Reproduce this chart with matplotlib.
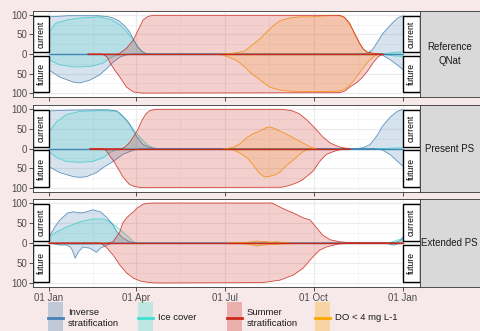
import matplotlib
matplotlib.use('Agg')
import numpy as np
import matplotlib.pyplot as plt
from matplotlib.patches import Rectangle
from matplotlib.lines import Line2D

plt.rcParams['font.family'] = ['Liberation Sans', 'DejaVu Sans']

# ---------------- data (day of year, % of years) ----------------
# Panel 1: Reference QNat
REF_INV_CUR_D = [0, 20, 50, 60, 66, 72, 78, 83, 87, 91, 95, 99, 103, 322, 328, 333, 338, 344, 348, 352, 356, 360, 365]
REF_INV_CUR_V = [95, 98, 98, 96, 92, 85, 72, 57, 38, 20, 8, 2, 0, 0, 2, 10, 28, 52, 63, 74, 84, 93, 98]
REF_INV_FUT_D = [0, 11, 25, 32, 42, 52, 60, 66, 73, 80, 86, 335, 344, 352, 359, 365]
REF_INV_FUT_V = [-41, -59, -72, -74, -67, -54, -36, -21, -8, -2, 0, 0, -3, -15, -28, -40]
REF_ICE_CUR_D = [0, 7, 18, 32, 52, 64, 73, 80, 85, 89, 93, 97, 101, 340, 350, 356, 360, 365]
REF_ICE_CUR_V = [56, 79, 87, 92, 95, 88, 75, 58, 42, 28, 14, 5, 0, 0, 2, 4, 5, 5]
REF_ICE_FUT_D = [0, 11, 25, 35, 45, 56, 63, 70, 76, 82, 340, 350, 356, 365]
REF_ICE_FUT_V = [-15, -28, -33, -33, -31, -23, -10, -3, -1, 0, 0, -3, -5, -6]
REF_SUM_CUR_D = [40, 70, 73, 80, 87, 92, 97, 102, 107, 300, 305, 310, 315, 320, 324, 328, 334, 344]
REF_SUM_CUR_V = [0, 0, 2, 15, 36, 62, 87, 96, 99, 99, 93, 79, 52, 28, 13, 5, 2, 0]
REF_SUM_FUT_D = [40, 55, 60, 63, 68, 73, 77, 80, 84, 87, 92, 97, 300, 305, 310, 318, 323, 328, 334, 339, 344]
REF_SUM_FUT_V = [0, 0, -8, -23, -42, -59, -74, -85, -92, -97, -99, -100, -99, -95, -85, -72, -60, -45, -23, -8, 0]
REF_DO_CUR_D = [180, 190, 197, 202, 207, 212, 218, 223, 228, 233, 238, 248, 258, 270, 280, 290, 300, 304, 308, 312, 316, 320, 324, 328, 332, 336]
REF_DO_CUR_V = [0, 2, 5, 8, 18, 28, 40, 53, 65, 76, 85, 92, 95, 95, 97, 98, 98, 95, 82, 67, 50, 30, 12, 5, 2, 0]
REF_DO_FUT_D = [173, 180, 187, 192, 197, 202, 207, 212, 218, 223, 228, 233, 238, 248, 260, 280, 300, 305, 310, 315, 320, 325, 330, 335, 340]
REF_DO_FUT_V = [0, -3, -10, -15, -23, -34, -46, -56, -67, -77, -85, -89, -92, -95, -96, -96, -95, -90, -80, -66, -49, -32, -17, -6, 0]

# Panel 2: Present PS
PRE_INV_CUR_D = [0, 20, 60, 70, 75, 83, 90, 97, 104, 110, 318, 324, 331, 338, 344, 352, 359, 365]
PRE_INV_CUR_V = [95, 97, 98, 95, 85, 62, 32, 10, 2, 0, 0, 2, 10, 32, 57, 80, 94, 99]
PRE_INV_FUT_D = [0, 11, 25, 32, 39, 49, 56, 66, 76, 83, 90, 96, 335, 344, 352, 359, 365]
PRE_INV_FUT_V = [-46, -61, -71, -73, -71, -61, -48, -33, -15, -8, -2, 0, 0, -4, -16, -32, -45]
PRE_ICE_CUR_D = [0, 8, 18, 32, 53, 70, 80, 87, 94, 101, 107, 112, 345, 355, 365]
PRE_ICE_CUR_V = [43, 68, 86, 94, 96, 94, 73, 48, 28, 10, 2, 0, 0, 1, 2]
PRE_ICE_FUT_D = [0, 8, 18, 32, 45, 56, 63, 70, 76, 345, 355, 365]
PRE_ICE_FUT_V = [-8, -23, -33, -35, -33, -23, -10, -3, 0, 0, -2, -3]
PRE_SUM_CUR_D = [42, 75, 78, 83, 88, 92, 96, 100, 104, 110, 240, 250, 258, 266, 274, 282, 290, 298, 305, 310]
PRE_SUM_CUR_V = [0, 0, 3, 15, 33, 50, 72, 88, 96, 99, 99, 96, 88, 72, 52, 30, 14, 5, 1, 0]
PRE_SUM_FUT_D = [42, 55, 59, 63, 67, 70, 73, 76, 80, 83, 88, 95, 240, 247, 252, 257, 262, 267, 272, 276, 279, 283, 286, 293, 300, 305]
PRE_SUM_FUT_V = [0, 0, -5, -20, -33, -46, -58, -71, -83, -91, -96, -99, -98, -94, -90, -85, -78, -68, -58, -44, -33, -22, -15, -8, -3, 0]
PRE_DO_CUR_D = [183, 190, 197, 204, 211, 218, 223, 228, 233, 238, 245, 252, 259, 265, 270, 275]
PRE_DO_CUR_V = [0, 3, 12, 28, 38, 45, 52, 55, 50, 44, 36, 27, 18, 10, 3, 0]
PRE_DO_FUT_D = [180, 190, 197, 204, 210, 216, 222, 228, 234, 238, 244, 250, 256, 262, 269, 275]
PRE_DO_FUT_V = [0, -3, -12, -23, -40, -60, -72, -70, -66, -60, -45, -33, -20, -8, -1, 0]

# Panel 3: Extended PS
EXT_INV_CUR_D = [0, 6, 11, 19, 25, 32, 39, 45, 53, 60, 66, 70, 76, 83, 90, 352, 358, 362, 365]
EXT_INV_CUR_V = [15, 40, 57, 75, 78, 75, 78, 83, 78, 63, 45, 28, 13, 3, 0, 0, 2, 6, 15]
EXT_INV_FUT_D = [0, 11, 18, 22, 24, 27, 30, 35, 42, 49, 53, 60, 66, 348, 352, 356, 360, 365]
EXT_INV_FUT_V = [0, -5, -5, -10, -18, -38, -23, -10, -13, -23, -13, -5, 0, 0, -4, -5, -2, 0]
EXT_ICE_CUR_D = [0, 8, 18, 32, 45, 56, 63, 70, 76, 83, 87, 92, 350, 355, 360, 365]
EXT_ICE_CUR_V = [15, 28, 40, 53, 60, 60, 53, 40, 28, 13, 3, 0, 0, 4, 8, 10]
EXT_ICE_FUT_D = [0, 10, 30, 60, 70]
EXT_ICE_FUT_V = [0, -2, -3, -2, 0]
EXT_SUM_CUR_D = [0, 60, 66, 73, 76, 80, 84, 87, 91, 94, 97, 101, 107, 230, 238, 245, 252, 262, 269, 276, 282, 290, 300, 310, 365]
EXT_SUM_CUR_V = [0, 0, 3, 28, 50, 63, 72, 78, 88, 92, 97, 99, 100, 100, 90, 82, 75, 63, 58, 38, 20, 8, 3, 1, 0]
EXT_SUM_FUT_D = [0, 53, 56, 60, 66, 73, 80, 87, 94, 101, 110, 220, 238, 252, 262, 272, 279, 286, 297, 310, 365]
EXT_SUM_FUT_V = [0, 0, -5, -13, -30, -55, -75, -88, -95, -98, -100, -99, -93, -80, -63, -35, -18, -10, -3, 0, 0]
EXT_DO_CUR_D = [185, 195, 205, 210, 214, 218, 222, 228, 235, 242, 248]
EXT_DO_CUR_V = [0, 1, 2, 3, 5, 3, 4, 2, 3, 1, 0]
EXT_DO_FUT_D = [185, 195, 205, 210, 214, 218, 222, 228, 235, 242, 248]
EXT_DO_FUT_V = [0, -1, -3, -5, -8, -6, -5, -4, -3, -2, 0]

PANEL_LABELS = ['Reference\nQNat', 'Present PS', 'Extended PS']
TICK_DAYS = [0, 90, 181, 273, 365]
TICK_LABELS = ['01 Jan', '01 Apr', '01 Jul', '01 Oct', '01 Jan']
LEGEND_LABELS = ['Inverse\nstratification', 'Ice cover', 'Summer\nstratification', 'DO < 4 mg L-1']

# ---------------- style ----------------
BG = '#F7E9E9'
C_INV = '#4682B4'
C_ICE = '#40E0D0'
C_SUM = '#CC2A1E'
C_DO = '#FFA500'
FILL_ALPHA = {C_INV: 0.22, C_ICE: 0.22, C_SUM: 0.22, C_DO: 0.17}
LW = 0.6

W, H = 480.0, 331.0
fig = plt.figure(figsize=(4.8, 3.31), dpi=100, facecolor=BG)


def rect_px(l, t, r, b):
    return [l / W, 1 - b / H, (r - l) / W, (b - t) / H]


panels = [
    (rect_px(33, 11, 420, 97), 'REF'),
    (rect_px(33, 105, 420, 192), 'PRE'),
    (rect_px(33, 199, 420, 287), 'EXT'),
]

series_by_panel = {
    'REF': [
        (REF_ICE_CUR_D, REF_ICE_CUR_V, REF_ICE_FUT_D, REF_ICE_FUT_V, C_ICE, 2),
        (REF_INV_CUR_D, REF_INV_CUR_V, REF_INV_FUT_D, REF_INV_FUT_V, C_INV, 3),
        (REF_DO_CUR_D, REF_DO_CUR_V, REF_DO_FUT_D, REF_DO_FUT_V, C_DO, 4),
        (REF_SUM_CUR_D, REF_SUM_CUR_V, REF_SUM_FUT_D, REF_SUM_FUT_V, C_SUM, 5),
    ],
    'PRE': [
        (PRE_ICE_CUR_D, PRE_ICE_CUR_V, PRE_ICE_FUT_D, PRE_ICE_FUT_V, C_ICE, 2),
        (PRE_INV_CUR_D, PRE_INV_CUR_V, PRE_INV_FUT_D, PRE_INV_FUT_V, C_INV, 3),
        (PRE_DO_CUR_D, PRE_DO_CUR_V, PRE_DO_FUT_D, PRE_DO_FUT_V, C_DO, 4),
        (PRE_SUM_CUR_D, PRE_SUM_CUR_V, PRE_SUM_FUT_D, PRE_SUM_FUT_V, C_SUM, 5),
    ],
    'EXT': [
        (EXT_ICE_CUR_D, EXT_ICE_CUR_V, EXT_ICE_FUT_D, EXT_ICE_FUT_V, C_ICE, 2),
        (EXT_INV_CUR_D, EXT_INV_CUR_V, EXT_INV_FUT_D, EXT_INV_FUT_V, C_INV, 3),
        (EXT_DO_CUR_D, EXT_DO_CUR_V, EXT_DO_FUT_D, EXT_DO_FUT_V, C_DO, 4),
        (EXT_SUM_CUR_D, EXT_SUM_CUR_V, EXT_SUM_FUT_D, EXT_SUM_FUT_V, C_SUM, 5),
    ],
}

XMIN, XMAX = -16.5, 382.5
TXT = '#4D4D4D'

for i, (rect, key) in enumerate(panels):
    ax = fig.add_axes(rect)
    ax.set_facecolor('white')
    ax.set_xlim(XMIN, XMAX)
    ax.set_ylim(-110, 110)
    # grid
    for y in [-75, -25, 25, 75]:
        ax.axhline(y, color='#F2F2F2', lw=0.5, zorder=0)
    for y in [-100, -50, 0, 50, 100]:
        ax.axhline(y, color='#EBEBEB', lw=0.9, zorder=0)
    for k in range(len(TICK_DAYS) - 1):
        ax.axvline((TICK_DAYS[k] + TICK_DAYS[k + 1]) / 2, color='#F2F2F2', lw=0.5, zorder=0)
    for d in TICK_DAYS:
        ax.axvline(d, color='#EBEBEB', lw=0.9, zorder=0)

    for cd, cv, fd, fv, col, z in series_by_panel[key]:
        for d, v in ((cd, cv), (fd, fv)):
            d = np.asarray(d, float)
            v = np.asarray(v, float)
            ax.fill_between(d, 0, v, facecolor=col, alpha=FILL_ALPHA[col], lw=0, zorder=z)
            ax.plot(d, v, color=col, lw=LW, alpha=0.85, zorder=z + 0.5, solid_joinstyle='round')
            ax.plot(d, np.zeros_like(d), color=col, lw=LW + 0.2, zorder=z + 0.5)

    # current / future label boxes on both sides
    for x0, x1 in ((XMIN, 0), (365, XMAX)):
        for y0, y1, lab in ((4, 97, 'current'), (-97, -4, 'future')):
            ax.add_patch(Rectangle((x0, y0), x1 - x0, y1 - y0, facecolor='white',
                                   edgecolor='black', lw=1.0, zorder=10))
            ax.text((x0 + x1) / 2, (y0 + y1) / 2, lab, rotation=90, ha='center',
                    va='center', fontsize=6.2, color='black', zorder=11)

    ax.set_yticks([-100, -50, 0, 50, 100])
    ax.set_yticklabels(['100', '50', '0', '50', '100'])
    ax.set_xticks(TICK_DAYS)
    if i == 2:
        ax.set_xticklabels(TICK_LABELS)
    else:
        ax.set_xticklabels([])
        ax.tick_params(axis='x', length=0)
    ax.tick_params(axis='both', labelsize=7.0, labelcolor=TXT, color='#333333',
                   width=0.6, length=2.8, pad=1.5)
    for s in ax.spines.values():
        s.set_color('#333333')
        s.set_linewidth(0.6)
        s.set_zorder(12)

    # facet strip on the right
    l, b, w, h = rect
    sax = fig.add_axes([l + w, b, 60 / W, h])
    sax.set_facecolor('#D9D9D9')
    sax.set_xticks([])
    sax.set_yticks([])
    for s in sax.spines.values():
        s.set_color('#333333')
        s.set_linewidth(0.6)
    sax.text(0.49, 0.5, PANEL_LABELS[i], transform=sax.transAxes, ha='center',
             va='center', fontsize=7, color='#1A1A1A', linespacing=1.5)

# ---------------- legend (bottom) ----------------
leg_colors = [C_INV, C_ICE, C_SUM, C_DO]
key_x = [48, 138, 227, 315]
for lab, col, kx in zip(LEGEND_LABELS, leg_colors, key_x):
    fig.patches.append(Rectangle((kx / W, 1 - 334 / H), 15 / W, 32 / H,
                                 transform=fig.transFigure, facecolor=col,
                                 alpha=0.3, lw=0, zorder=1))
    fig.lines.append(Line2D([kx / W, (kx + 15) / W], [1 - 318 / H, 1 - 318 / H],
                            transform=fig.transFigure, color=col, lw=2.0, zorder=2))
    fig.text((kx + 20) / W, 1 - 318 / H, lab, ha='left', va='center',
             fontsize=6.8, color='#1A1A1A', linespacing=1.15)

fig.savefig('out.png', dpi=100, facecolor=BG)
